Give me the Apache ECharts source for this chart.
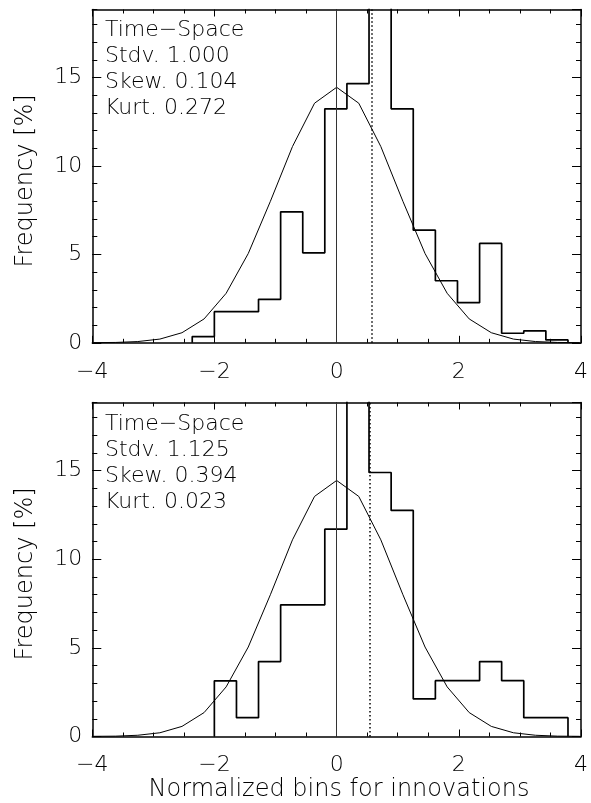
<!DOCTYPE html>
<html>
<head>
<meta charset="utf-8">
<script src="https://cdn.jsdelivr.net/npm/echarts@6/dist/echarts.min.js"></script>
<style>html,body{margin:0;padding:0;background:#fff}#c{width:591px;height:803px}</style>
</head>
<body>
<div id="c"></div>
<script>
// ---- data ----
const xTicks = [-4, -2, 0, 2, 4];
const yMax = 18.85;
const topEdges = [-2.364, -2.002, -1.640, -1.279, -0.917, -0.555, -0.194, 0.168, 0.530, 0.892, 1.254, 1.616, 1.978, 2.340, 2.701, 3.063, 3.425, 3.787];
const topValues = [0.35, 1.76, 1.76, 2.46, 7.41, 5.09, 13.23, 14.66, 20.9, 13.23, 6.37, 3.51, 2.27, 5.62, 0.54, 0.68, 0.16];
const botEdges = [-2.002, -1.640, -1.279, -0.917, -0.555, -0.194, 0.168, 0.530, 0.892, 1.254, 1.616, 1.978, 2.340, 2.701, 3.063, 3.425, 3.787];
const botValues = [3.14, 1.06, 4.23, 7.43, 7.43, 11.70, 19.4, 14.90, 12.76, 2.12, 3.15, 3.15, 4.23, 3.15, 1.06, 1.06];
const gaussX = [-3.98, -3.617, -3.255, -2.894, -2.532, -2.170, -1.809, -1.447, -1.085, -0.723, -0.362, 0, 0.362, 0.723, 1.085, 1.447, 1.809, 2.170, 2.532, 2.894, 3.255, 3.617, 3.98];
const gaussY = [0.01, 0.02, 0.07, 0.21, 0.57, 1.35, 2.80, 5.05, 8.00, 11.10, 13.55, 14.45, 13.55, 11.10, 8.00, 5.05, 2.80, 1.35, 0.57, 0.21, 0.07, 0.02, 0.01];
const topStats = ['Time\u2212Space', 'Stdv. 1.000', 'Skew. 0.104', 'Kurt. 0.272'];
const botStats = ['Time\u2212Space', 'Stdv. 1.125', 'Skew. 0.394', 'Kurt. 0.023'];
const topDotted = 0.57;
const botDotted = 0.55;
const xTitle = 'Normalized bins for innovations';
const yTitle = 'Frequency [%]';

// ---- build ----
const FONT = 'DejaVu Sans';
const FW = 200;
function stepPoints(edges, vals) {
  const pts = [[edges[0], 0]];
  for (let i = 0; i < vals.length; i++) {
    pts.push([edges[i], vals[i]]);
    pts.push([edges[i + 1], vals[i]]);
  }
  pts.push([edges[edges.length - 1], 0]);
  return pts;
}
const gaussPts = gaussX.map((x, i) => [x, gaussY[i]]);

const panels = [
  { top: 9.5, height: 333.3, edges: topEdges, vals: topValues, dotted: topDotted },
  { top: 402.5, height: 334, edges: botEdges, vals: botValues, dotted: botDotted }
];

const grid = [], xAxis = [], yAxis = [], series = [];
panels.forEach((p, k) => {
  grid.push({ left: 92.3, top: p.top, width: 494, height: p.height, containLabel: false });
  const xBase = {
    type: 'value', gridIndex: k, min: -4, max: 4, interval: 2,
    axisLine: { show: true, onZero: false, lineStyle: { color: '#000', width: 1.5 } },
    axisTick: { show: true, inside: true, length: 7, lineStyle: { color: '#000', width: 1 } },
    minorTick: { show: true, splitNumber: 4, length: 4, lineStyle: { color: '#000', width: 1 } },
    splitLine: { show: false }, minorSplitLine: { show: false }
  };
  xAxis.push(Object.assign({}, xBase, {
    position: 'bottom',
    axisLabel: { show: true, margin: 18, fontSize: 22, fontFamily: FONT, fontWeight: FW, color: '#000',
      formatter: v => (xTicks.indexOf(v) >= 0 ? String(v).replace('-', '\u2212') : '') }
  }));
  xAxis.push(Object.assign({}, xBase, { position: 'top', axisLabel: { show: false } }));
  const yMajor = {
    type: 'value', gridIndex: k, min: 0, max: yMax, interval: 5,
    axisLine: { show: true, onZero: false, lineStyle: { color: '#000', width: 1.5 } },
    axisTick: { show: true, inside: true, length: 9, lineStyle: { color: '#000', width: 1 } },
    splitLine: { show: false }
  };
  const yMinor = {
    type: 'value', gridIndex: k, min: 0, max: yMax, interval: 1,
    axisLine: { show: false, onZero: false },
    axisTick: { show: true, inside: true, length: 5, lineStyle: { color: '#000', width: 1 } },
    axisLabel: { show: false }, splitLine: { show: false }
  };
  yAxis.push(Object.assign({}, yMajor, { position: 'left',
    axisLabel: { show: true, margin: 10, fontSize: 22, fontFamily: FONT, fontWeight: FW, color: '#000', showMaxLabel: false } }));
  yAxis.push(Object.assign({}, yMinor, { position: 'left' }));
  yAxis.push(Object.assign({}, yMajor, { position: 'right', axisLabel: { show: false } }));
  yAxis.push(Object.assign({}, yMinor, { position: 'right' }));

  series.push({
    type: 'line', xAxisIndex: 2 * k, yAxisIndex: 4 * k, data: stepPoints(p.edges, p.vals),
    showSymbol: false, symbol: 'none', clip: true,
    lineStyle: { color: '#000', width: 1.7 },
    markLine: {
      silent: true, symbol: ['none', 'none'], label: { show: false },
      data: [
        { xAxis: 0, lineStyle: { color: '#333', width: 1, type: 'solid' } },
        { xAxis: p.dotted, lineStyle: { color: '#000', width: 1.5, type: [1.5, 2.5] } }
      ]
    }
  });
  series.push({
    type: 'line', xAxisIndex: 2 * k, yAxisIndex: 4 * k, data: gaussPts,
    showSymbol: false, symbol: 'none', clip: true,
    lineStyle: { color: '#000', width: 1 }
  });
});

const f22 = FW + ' 22px "' + FONT + '"';
const f24 = FW + ' 24px "' + FONT + '"';
const graphic = [
  { type: 'text', left: 105, top: 17, style: { text: topStats.join('\n'), font: f22, lineHeight: 26, fill: '#000' } },
  { type: 'text', left: 105, top: 411, style: { text: botStats.join('\n'), font: f22, lineHeight: 26, fill: '#000' } },
  { type: 'text', x: 339, y: 790, style: { text: xTitle, font: f24, fill: '#000', align: 'center', verticalAlign: 'middle' } },
  { type: 'text', x: 26, y: 181, rotation: Math.PI / 2, style: { text: yTitle, font: f24, fill: '#000', align: 'center', verticalAlign: 'middle' } },
  { type: 'text', x: 26, y: 574, rotation: Math.PI / 2, style: { text: yTitle, font: f24, fill: '#000', align: 'center', verticalAlign: 'middle' } }
];

const chart = echarts.init(document.getElementById('c'), null, { renderer: 'canvas' });
chart.setOption({ animation: false, backgroundColor: '#fff', grid, xAxis, yAxis, series, graphic });
</script>
</body>
</html>
